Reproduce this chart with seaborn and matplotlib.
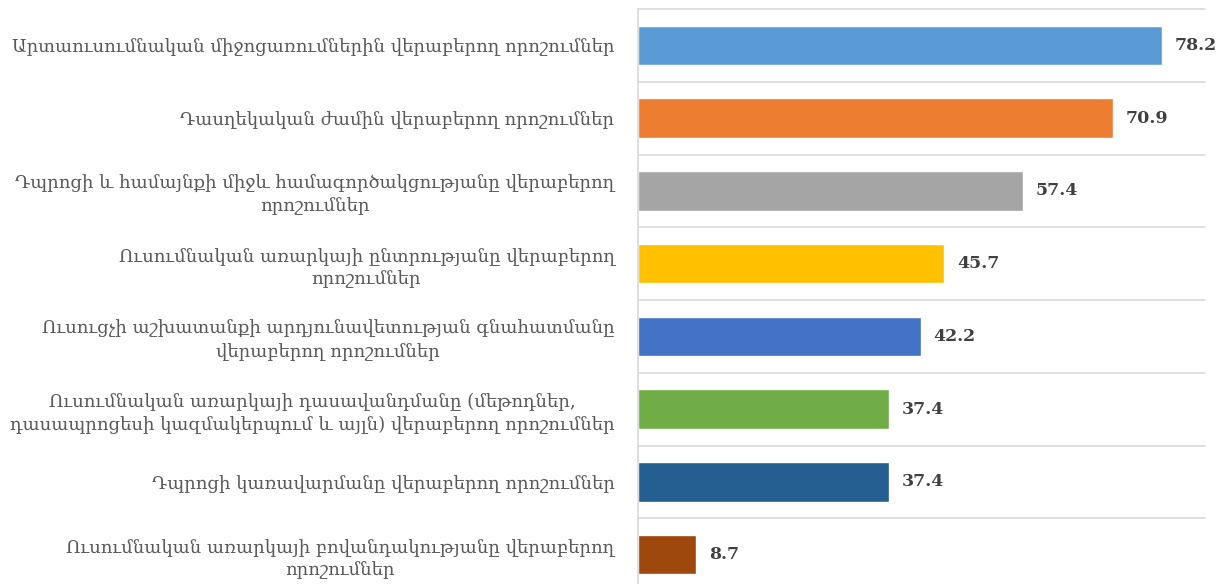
import pandas as pd
import seaborn as sns
import matplotlib.pyplot as plt

categories = [
    "Արտաուսումնական միջոցառումներին վերաբերող որոշումներ",
    "Դասղեկական ժամին վերաբերող որոշումներ",
    "Դպրոցի և համայնքի միջև համագործակցությանը վերաբերող\nորոշումներ",
    "Ուսումնական առարկայի ընտրությանը վերաբերող\nորոշումներ",
    "Ուսուցչի աշխատանքի արդյունավետության գնահատմանը\nվերաբերող որոշումներ",
    "Ուսումնական առարկայի դասավանդմանը (մեթոդներ,\nդասապրոցեսի կազմակերպում և այլն) վերաբերող որոշումներ",
    "Դպրոցի կառավարմանը վերաբերող որոշումներ",
    "Ուսումնական առարկայի բովանդակությանը վերաբերող\nորոշումներ",
]
values = [78.2, 70.9, 57.4, 45.7, 42.2, 37.4, 37.4, 8.7]
colors = ["#5B9BD5", "#ED7D31", "#A5A5A5", "#FFC000",
          "#4472C4", "#70AD47", "#255E91", "#9E480E"]

df = pd.DataFrame({"cat": categories, "val": values})

sns.set_style("white")
plt.rcParams['font.family'] = ['DejaVu Serif', 'DejaVu Sans']

fig = plt.figure(figsize=(12.18, 5.84), dpi=100)
ax = fig.add_axes([638 / 1218, -7 / 584, (1205 - 638) / 1218, 582 / 584])

sns.barplot(data=df, x="val", y="cat", hue="cat", palette=colors,
            saturation=1, dodge=False, legend=False, width=0.54, ax=ax,
            orient="h")

ax.set_xlim(0, 84.6)
ax.set_ylim(len(categories) - 0.5, -0.5)
ax.set_xlabel("")
ax.set_ylabel("")
ax.set_xticks([])

# separators between categories
for i in range(len(categories) + 1):
    ax.axhline(i - 0.5, color="#d9d9d9", lw=1.2, zorder=0, clip_on=False)

for s in ["top", "right", "bottom"]:
    ax.spines[s].set_visible(False)
ax.spines["left"].set_color("#d9d9d9")
ax.spines["left"].set_linewidth(1.2)

ax.tick_params(axis="y", length=0, pad=17)
for lab in ax.get_yticklabels():
    lab.set_fontsize(13)
    lab.set_color("#595959")
    lab.set_multialignment("center")
    lab.set_linespacing(1.3)

for i, v in enumerate(values):
    ax.text(v + 1.9, i, f"{v:.1f}", va="center", ha="left", fontsize=12.5,
            fontweight="bold", color="#404040", clip_on=False)

fig.savefig("out.png", dpi=100)
